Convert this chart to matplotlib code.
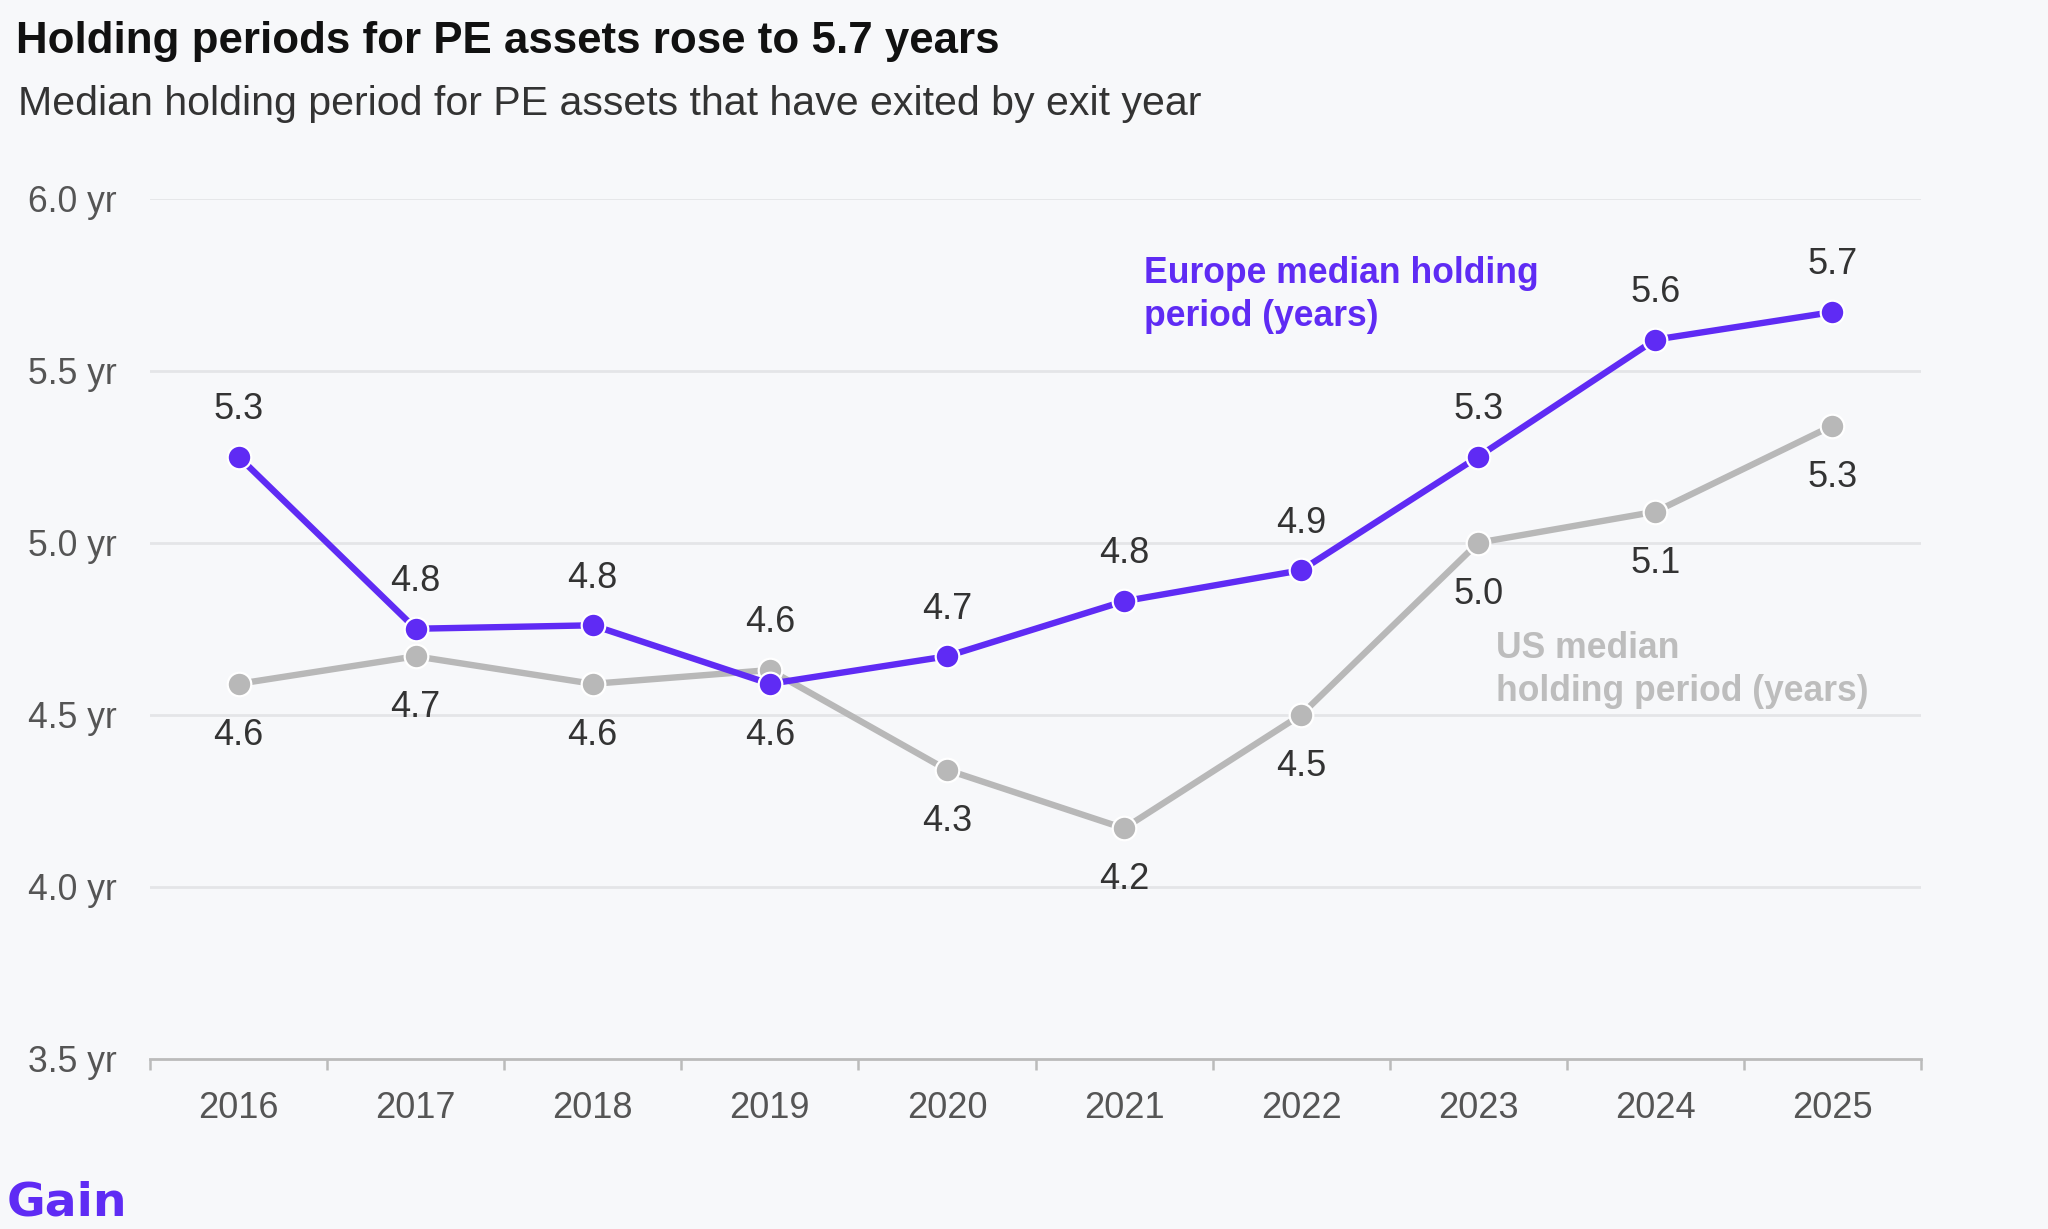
import matplotlib
matplotlib.use("Agg")
import matplotlib.pyplot as plt
import numpy as np

years = ["2016", "2017", "2018", "2019", "2020", "2021", "2022", "2023", "2024", "2025"]
europe = [5.25, 4.75, 4.76, 4.59, 4.67, 4.83, 4.92, 5.25, 5.59, 5.67]
us = [4.59, 4.67, 4.59, 4.63, 4.34, 4.17, 4.50, 5.00, 5.09, 5.34]
europe_labels = ["5.3", "4.8", "4.8", "4.6", "4.7", "4.8", "4.9", "5.3", "5.6", "5.7"]
us_labels = ["4.6", "4.7", "4.6", "4.6", "4.3", "4.2", "4.5", "5.0", "5.1", "5.3"]
y_ticks = [3.5, 4.0, 4.5, 5.0, 5.5, 6.0]
y_ticklabels = ["3.5 yr", "4.0 yr", "4.5 yr", "5.0 yr", "5.5 yr", "6.0 yr"]

PURPLE = "#5F2BF4"
GRAY = "#B8B8B8"
BG = "#F7F8FA"
TXT = "#333333"
TICK = "#555555"
FONT = ["Liberation Sans", "DejaVu Sans"]
plt.rcParams["font.family"] = FONT

W, H, DPI = 2048, 1229, 200
fig = plt.figure(figsize=(W / DPI, H / DPI), dpi=DPI, facecolor=BG)
ax = fig.add_axes([150 / W, 1 - 1059 / H, (1921 - 150) / W, (1059 - 198.5) / H])
ax.set_facecolor(BG)

x = np.arange(len(years))
ax.set_xlim(-0.5, len(years) - 0.5)
ax.set_ylim(3.5, 6.0)

for yv in y_ticks[1:]:
    ax.axhline(yv, color="#E4E5E8", lw=1.0, zorder=0)

ax.plot(x, us, color=GRAY, lw=2.3, marker="o", ms=8.5, mfc=GRAY, mec="white", mew=0.8, zorder=3)
ax.plot(x, europe, color=PURPLE, lw=2.3, marker="o", ms=8.5, mfc=PURPLE, mec="white", mew=0.8, zorder=4)

for i in range(len(years)):
    e_above = europe[i] >= us[i]
    ax.annotate(europe_labels[i], (x[i], europe[i]), xytext=(0, 17 if e_above else -18.5),
                textcoords="offset points", ha="center", va="center", fontsize=13, color=TXT, zorder=5)
    ax.annotate(us_labels[i], (x[i], us[i]), xytext=(0, -18.5 if e_above else 17),
                textcoords="offset points", ha="center", va="center", fontsize=13, color=TXT, zorder=5)

for s in ["top", "right", "left"]:
    ax.spines[s].set_visible(False)
ax.spines["bottom"].set_color("#BBBBBB")
ax.spines["bottom"].set_linewidth(1.0)

ax.set_xticks(np.arange(-0.5, len(years), 1.0))
ax.set_xticklabels([])
ax.tick_params(axis="x", which="major", length=4, width=0.9, color="#BBBBBB")
ax.set_xticks(x, minor=True)
ax.set_xticklabels(years, minor=True)
ax.tick_params(axis="x", which="minor", length=0, pad=11.5, labelsize=13, labelcolor=TICK)

ax.set_yticks(y_ticks)
ax.set_yticklabels(y_ticklabels)
ax.tick_params(axis="y", length=0, pad=44, labelsize=12.8, labelcolor=TICK)
for lbl in ax.get_yticklabels():
    lbl.set_horizontalalignment("left")

fig.text(16 / W, 1 - 42 / H, "Holding periods for PE assets rose to 5.7 years",
         fontsize=15.8, fontweight="bold", color="#111111", va="center", ha="left")
fig.text(18 / W, 1 - 104 / H, "Median holding period for PE assets that have exited by exit year",
         fontsize=14.8, color="#333333", va="center", ha="left")

ax.text(5.11, 5.72, "Europe median holding\nperiod (years)", color=PURPLE, fontsize=12.8,
        fontweight="bold", ha="left", va="center", linespacing=1.3)
ax.text(7.1, 4.63, "US median\nholding period (years)", color="#BDBDBD", fontsize=12.8,
        fontweight="bold", ha="left", va="center", linespacing=1.3)

fig.text(7 / W, 1 - 1203 / H, "Gain", fontsize=17, fontweight="bold", color=PURPLE,
         va="center", ha="left", family=["DejaVu Sans"])

fig.savefig("out.png", dpi=DPI, facecolor=BG)
